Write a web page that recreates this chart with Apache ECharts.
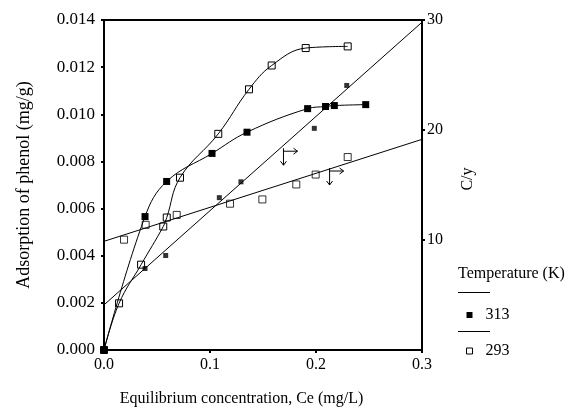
<!DOCTYPE html>
<html>
<head>
<meta charset="utf-8">
<script src="https://cdn.jsdelivr.net/npm/echarts@6/dist/echarts.min.js"></script>
<style>html,body{margin:0;padding:0;background:#fff}#c{width:584px;height:412px}</style>
</head>
<body>
<div id="c"></div>
<script>
// Adsorption isotherms (left axis, mg/g) vs Ce (mg/L)
const ads313 = [[0,0],[0.0387,0.00566],[0.0591,0.00715],[0.1019,0.00834],[0.1349,0.00924],[0.1921,0.01024],[0.209,0.01033],[0.2173,0.01037],[0.2469,0.01041]];
const ads293 = [[0,0],[0.0142,0.00198],[0.035,0.00362],[0.0559,0.00524],[0.0592,0.00562],[0.0717,0.00731],[0.1078,0.00917],[0.1368,0.01106],[0.1582,0.01207],[0.1903,0.01281],[0.2299,0.01288]];
// Linearised C/y points (right axis)
const cy313 = [[0.0387,7.41],[0.0582,8.59],[0.1088,13.85],[0.1292,15.29],[0.1984,20.15],[0.229,24.05]];
const cy293 = [[0.0189,10.03],[0.0393,11.38],[0.0686,12.28],[0.1189,13.3],[0.1494,13.69],[0.1814,15.05],[0.1997,15.95],[0.2299,17.54]];
// Linear fits (right axis)
const fit313 = [[0,4.1],[0.3,29.8]];
const fit293 = [[0,9.88],[0.3,19.15]];
// Axis ticks
const xTicks = {min:0, max:0.3, interval:0.1};
const yLeftTicks = {min:0, max:0.014, interval:0.002};
const yRightTicks = {min:0, max:30, interval:10};
// Arrow annotation anchors (data coords, left axis)
const arrowMarks = [[0.1745,0.0082],[0.218,0.00736]];

const FONT = 'Liberation Serif';
const chart = echarts.init(document.getElementById('c'), null, {renderer:'canvas'});
const arrowPath = 'path://M2 0 L2 17 M-1 13 L2 17 L5 13 M2 3 L16 3 M12 0 L16 3 L12 6';
const axisLine = {show:true, lineStyle:{color:'#000', width:2}};
const axisTick = {show:true, length:3, lineStyle:{color:'#000', width:2}};
chart.setOption({
  animation:false,
  backgroundColor:'#fff',
  grid:{left:104, right:162, top:20, bottom:59, show:true, borderColor:'#000', borderWidth:2, backgroundColor:'transparent'},
  xAxis:{type:'value', min:xTicks.min, max:xTicks.max, interval:xTicks.interval,
    name:'Equilibrium concentration, Ce (mg/L)', nameLocation:'middle', nameGap:41,
    nameTextStyle:{fontFamily:FONT, fontSize:16, color:'#000', padding:[0,43,0,0]},
    axisLine:axisLine, axisTick:axisTick, splitLine:{show:false},
    axisLabel:{fontFamily:FONT, fontSize:16, color:'#000', margin:7, formatter:v=>v.toFixed(1)}},
  yAxis:[
    {type:'value', min:yLeftTicks.min, max:yLeftTicks.max, interval:yLeftTicks.interval, position:'left',
      name:'Adsorption of phenol (mg/g)', nameLocation:'middle', nameGap:71,
      nameTextStyle:{fontFamily:FONT, fontSize:18, color:'#000'},
      axisLine:axisLine, axisTick:axisTick, splitLine:{show:false},
      axisLabel:{fontFamily:FONT, fontSize:17, color:'#000', margin:9, formatter:v=>v.toFixed(3)}},
    {type:'value', min:yRightTicks.min, max:yRightTicks.max, interval:yRightTicks.interval, position:'right',
      name:'C/y', nameLocation:'middle', nameGap:38,
      nameTextStyle:{fontFamily:FONT, fontSize:16, color:'#000', padding:[0,0,0,12]},
      axisLine:axisLine, axisTick:axisTick, splitLine:{show:false},
      axisLabel:{fontFamily:FONT, fontSize:16, color:'#000', margin:5, showMinLabel:false}}
  ],
  legend:{orient:'vertical', left:461, top:302, itemWidth:6, itemHeight:6, itemGap:20, selectedMode:false,
    textStyle:{fontFamily:FONT, fontSize:16, color:'#000', padding:[0,0,0,8]},
    data:[{name:'313', icon:'rect', itemStyle:{color:'#000', borderWidth:0}},
          {name:'293', icon:'rect', itemStyle:{color:'#fff', borderColor:'#000', borderWidth:1}}]},
  graphic:[
    {type:'text', left:458, top:266, style:{text:'Temperature (K)', font:'16px "Liberation Serif"', fill:'#000'}},
    {type:'line', shape:{x1:458, y1:292.5, x2:490, y2:292.5}, style:{stroke:'#000', lineWidth:1}},
    {type:'line', shape:{x1:458, y1:331.5, x2:490, y2:331.5}, style:{stroke:'#000', lineWidth:1}}
  ],
  series:[
    {name:'313', type:'line', yAxisIndex:0, data:ads313, smooth:0.4, symbol:'rect', symbolSize:7,
      itemStyle:{color:'#000'}, lineStyle:{color:'#000', width:1}, z:3,
      markPoint:{symbol:arrowPath, symbolSize:[17,17], label:{show:false},
        itemStyle:{color:'rgba(0,0,0,0)', borderColor:'#000', borderWidth:1},
        data:arrowMarks.map(c=>({coord:c}))}},
    {name:'293', type:'line', yAxisIndex:0, data:ads293, smooth:0.4, symbol:'rect', symbolSize:7,
      itemStyle:{color:'rgba(0,0,0,0)', borderColor:'#000', borderWidth:1}, lineStyle:{color:'#000', width:1}, z:3},
    {name:'313 C/y', type:'scatter', yAxisIndex:1, data:cy313, symbol:'rect', symbolSize:5, itemStyle:{color:'#000'}},
    {name:'293 C/y', type:'scatter', yAxisIndex:1, data:cy293, symbol:'rect', symbolSize:7,
      itemStyle:{color:'rgba(0,0,0,0)', borderColor:'#000', borderWidth:1}},
    {name:'313 fit', type:'line', yAxisIndex:1, data:fit313, symbol:'none', lineStyle:{color:'#000', width:1}},
    {name:'293 fit', type:'line', yAxisIndex:1, data:fit293, symbol:'none', lineStyle:{color:'#000', width:1}}
  ]
});
</script>
</body>
</html>
